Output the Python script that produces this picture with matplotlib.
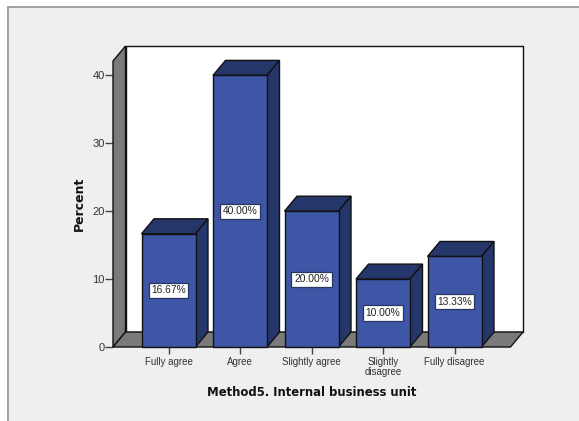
import matplotlib
matplotlib.use('Agg')
import matplotlib.pyplot as plt
from matplotlib.patches import Polygon, Rectangle

categories = ['Fully agree', 'Agree', 'Slightly agree', 'Slightly\ndisagree', 'Fully disagree']
percent = [16.67, 40.00, 20.00, 10.00, 13.33]
yticks = [0, 10, 20, 30, 40]

W, H = 579, 421
BLUE = '#3d56a6'
DARK = '#25366b'
WALL = '#7a7a7a'
INK = '#111111'

fig = plt.figure(figsize=(W / 100, H / 100), dpi=100, facecolor='white')
plt.rcParams['font.family'] = ['Liberation Sans', 'DejaVu Sans']

# grey panel behind the chart, runs off the right and bottom edges
fig.add_artist(Rectangle((8 / W, -0.01), 1.02, 1 - 7 / H + 0.01, transform=fig.transFigure,
                         facecolor='#efefef', edgecolor='#9a9a9a', lw=1.3, zorder=-1))

# pixel box of the chart: front axis 113..511, baseline at 347
left, right, bottom, top = 113, 523, 347, 46
ax = fig.add_axes([left / W, 1 - bottom / H, (right - left) / W, (bottom - top) / H])
px_x = 71.5
px_y = 6.79
x0 = -(168.5 - left) / px_x
x1 = x0 + (right - left) / px_x
ax.set_xlim(x0, x1)
ax.set_ylim(0, (bottom - top) / px_y)
ax.patch.set_visible(False)
for s in ax.spines.values():
    s.set_visible(False)

dx = 12.5 / px_x
dy = 15 / px_y
bw = 54 / px_x
ytop = (bottom - top) / px_y - dy
xend = x1 - dx

def poly(pts, fc, z, lw=1.0):
    ax.add_patch(Polygon(pts, closed=True, facecolor=fc, edgecolor=INK, lw=lw,
                         joinstyle='miter', zorder=z, clip_on=False))

poly([(x0 + dx, dy), (x1, dy), (x1, ytop + dy), (x0 + dx, ytop + dy)], 'white', 1)
poly([(x0, 0), (x0 + dx, dy), (x0 + dx, ytop + dy), (x0, ytop)], WALL, 2)
poly([(x0, 0), (xend, 0), (x1, dy), (x0 + dx, dy)], WALL, 2)

for i, v in enumerate(percent):
    l = i - bw / 2
    r = i + bw / 2
    poly([(l, v), (r, v), (r + dx, v + dy), (l + dx, v + dy)], DARK, 3)
    poly([(r, 0), (r + dx, dy), (r + dx, v + dy), (r, v)], DARK, 3)
    poly([(l, 0), (r, 0), (r, v), (l, v)], BLUE, 4)
    ax.text(i, v / 2, '%.2f%%' % v, ha='center', va='center', fontsize=7.4, color='#222222', zorder=5,
            bbox=dict(boxstyle='square,pad=0.25', facecolor='white', edgecolor='#2a3560', lw=0.9))

ax.set_xticks(range(len(categories)))
ax.set_xticklabels(categories, fontsize=7, color='#333333', linespacing=1.05)
ax.set_yticks(yticks)
ax.set_yticklabels([str(t) for t in yticks], fontsize=8, color='#333333')
ax.tick_params(axis='x', length=5, width=1, color='#444444', pad=2)
ax.tick_params(axis='y', length=5.5, width=1, color='#444444', pad=0.5)

fig.text(312 / W, 1 - 393 / H, 'Method5. Internal business unit', ha='center', va='center',
         fontsize=8.4, fontweight='bold', color='#111111', family=['DejaVu Sans'])
fig.text(79 / W, 1 - 204 / H, 'Percent', ha='center', va='center', rotation=90,
         fontsize=9, fontweight='bold', color='#111111', family=['DejaVu Sans'])

fig.savefig('out.png', dpi=100)
